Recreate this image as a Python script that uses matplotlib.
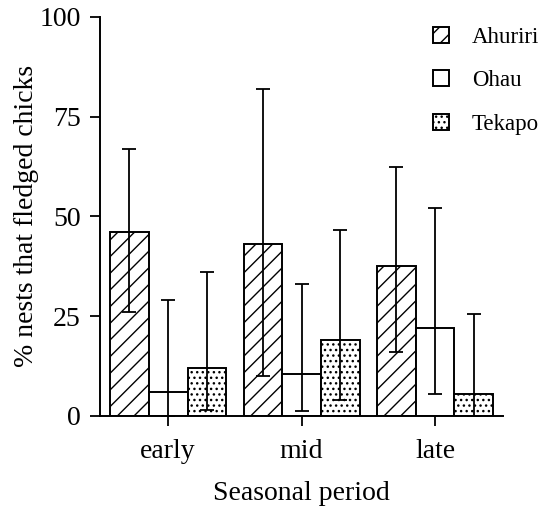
import numpy as np
import matplotlib.pyplot as plt

plt.rcParams['font.family'] = ['Liberation Serif', 'DejaVu Serif']
plt.rcParams['hatch.linewidth'] = 1.0

# seasonal periods and sites
periods = ["early", "mid", "late"]
sites = ["Ahuriri", "Ohau", "Tekapo"]

# % nests that fledged chicks (bar heights)
ahuriri = [46, 43, 37.5]
ohau = [6, 10.5, 22]
tekapo = [12, 19, 5.5]

# lower / upper confidence limits
ahuriri_lo = [26, 10, 16]
ahuriri_hi = [67, 82, 62.5]
ohau_lo = [0, 1.3, 5.5]
ohau_hi = [29, 33, 52]
tekapo_lo = [1.5, 4, 0]
tekapo_hi = [36, 46.5, 25.5]

series = [
    (ahuriri, ahuriri_lo, ahuriri_hi, "//"),
    (ohau, ohau_lo, ohau_hi, ""),
    (tekapo, tekapo_lo, tekapo_hi, "..."),
]

fig = plt.figure(figsize=(5.41, 5.14), dpi=100)
ax = fig.add_axes([0.185, 0.191, 0.745, 0.776])

x = np.arange(len(periods))
width = 0.29
for i, (vals, lo, hi, hatch) in enumerate(series):
    pos = x + (i - 1) * width
    vals = np.array(vals)
    ax.bar(pos, vals, width, color="white", edgecolor="black", linewidth=1.4,
           hatch=hatch, label=sites[i], zorder=2)
    yerr = [vals - np.array(lo), np.array(hi) - vals]
    ax.errorbar(pos, vals, yerr=yerr, fmt="none", ecolor="black",
                elinewidth=1.3, capsize=4.8, capthick=1.3, zorder=3)

ax.set_xlim(-0.51, 2.51)
ax.set_ylim(0, 100)
ax.set_yticks([0, 25, 50, 75, 100])
ax.set_xticks(x)
ax.set_xticklabels(periods)
ax.tick_params(axis="both", direction="out", length=7, width=1.3,
               labelsize=20)
ax.tick_params(axis="y", pad=7)
ax.tick_params(axis="x", pad=10)
for s in ["top", "right"]:
    ax.spines[s].set_visible(False)
for s in ["left", "bottom"]:
    ax.spines[s].set_linewidth(1.4)

ax.set_ylabel("% nests that fledged chicks", fontsize=20, labelpad=0)
ax.set_xlabel("Seasonal period", fontsize=20, labelpad=12)

fig.legend(loc="upper left", bbox_to_anchor=(433 / 541, 1 - 27 / 514),
           frameon=False, fontsize=16.5, handlelength=0.7, handleheight=0.7,
           handletextpad=1.0, labelspacing=0.97, borderpad=0, borderaxespad=0)

fig.savefig("out.png", dpi=100)
